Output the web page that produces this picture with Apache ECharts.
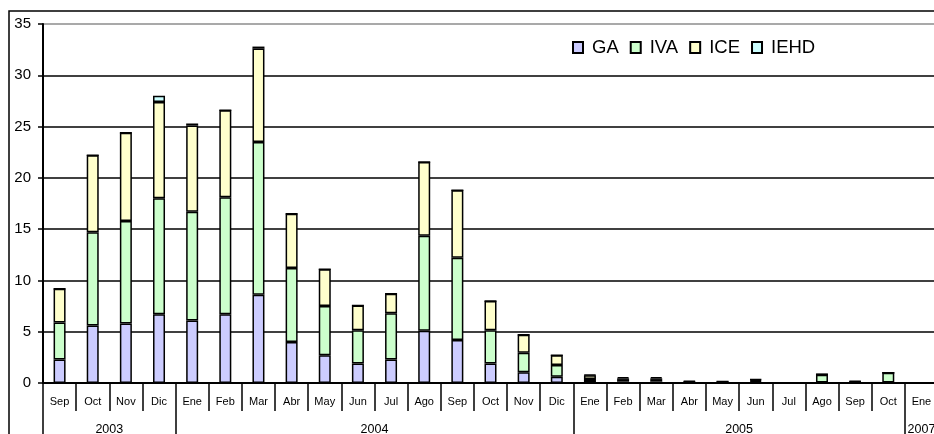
<!DOCTYPE html>
<html>
<head>
<meta charset="utf-8">
<script src="https://cdn.jsdelivr.net/npm/echarts@6/dist/echarts.min.js"></script>
<style>
    html, body { margin: 0; padding: 0; background: #fff; }
    #chart { width: 934px; height: 434px; }
</style>
</head>
<body>
<div id="chart"></div>
<script>
    // categorias (meses) y agrupacion por año
    var months = ['Sep', 'Oct', 'Nov', 'Dic',
        'Ene', 'Feb', 'Mar', 'Abr', 'May', 'Jun', 'Jul', 'Ago', 'Sep', 'Oct', 'Nov', 'Dic',
        'Ene', 'Feb', 'Mar', 'Abr', 'May', 'Jun', 'Jul', 'Ago', 'Sep', 'Oct',
        'Ene'];
    var years = ['2003', '2004', '2005', '2007'];
    var monthsPerYear = [4, 12, 10, 1];

    var yMin = 0, yMax = 35, yStep = 5;

    var GA = [2.3, 5.6, 5.8, 6.7,
        6.1, 6.7, 8.6, 4.0, 2.7, 1.9, 2.3, 5.1, 4.2, 1.9, 1.05, 0.6,
        0.1, 0.15, 0.15, 0.05, 0.05, 0.1, 0, 0.05, 0.05, 0.05,
        0];
    var IVA = [3.6, 9.1, 10.0, 11.3,
        10.6, 11.4, 14.9, 7.2, 4.8, 3.25, 4.5, 9.25, 8.0, 3.25, 1.9, 1.15,
        0.3, 0.15, 0.15, 0.05, 0.05, 0.1, 0, 0.75, 0.05, 0.95,
        0];
    var ICE = [3.3, 7.5, 8.6, 9.4,
        8.4, 8.5, 9.1, 5.3, 3.6, 2.4, 1.9, 7.2, 6.6, 2.85, 1.75, 0.95,
        0.35, 0.15, 0.15, 0.05, 0.05, 0.1, 0, 0.05, 0.05, 0,
        0];
    var IEHD = [0, 0, 0, 0.6,
        0.2, 0, 0.2, 0, 0, 0, 0, 0, 0, 0, 0, 0,
        0.05, 0.1, 0.1, 0.05, 0, 0.06, 0, 0, 0.05, 0,
        0];

    var seriesNames = ['GA', 'IVA', 'ICE', 'IEHD'];
    var seriesData = [GA, IVA, ICE, IEHD];
    var seriesColors = ['#ccccff', '#ccffcc', '#ffffcc', '#ccffff'];

    var font = '"Liberation Sans", Arial, sans-serif';

    // eje de años: medias posiciones, etiqueta en el centro de cada grupo
    var yearSlots = [];
    var yearBounds = [];
    for (var i = 0; i <= months.length * 2; i++) yearSlots.push('');
    var start = 0;
    for (var g = 0; g < years.length; g++) {
        yearBounds.push(start * 2);
        yearSlots[start * 2 + monthsPerYear[g]] = years[g];
        start += monthsPerYear[g];
    }
    yearBounds.push(start * 2);

    // lineas de division: la ultima (borde superior) en gris
    var splitColors = [];
    for (var v = yMin; v <= yMax; v += yStep) splitColors.push('#000');
    splitColors[splitColors.length - 1] = '#8c8c8c';

    var chart = echarts.init(document.getElementById('chart'));

    chart.setOption({
        animation: false,
        textStyle: { fontFamily: font, color: '#000' },
        grid: { left: 43, top: 24, right: -4, bottom: 51, outerBoundsMode: 'none', containLabel: false },
        legend: {
            data: seriesNames,
            left: 567,
            top: 33,
            icon: 'rect',
            itemWidth: 10,
            itemHeight: 11,
            itemGap: 11,
            textStyle: { fontFamily: font, fontSize: 18.5, color: '#000', padding: [0, 0, 0, 4] }
        },
        graphic: [{
            type: 'rect',
            silent: true,
            shape: { x: 9, y: 11, width: 1000, height: 1000 },
            style: { fill: 'none', stroke: '#000', lineWidth: 1.5 }
        }],
        xAxis: [{
            type: 'category',
            data: months,
            boundaryGap: true,
            axisLine: { show: true, lineStyle: { color: '#000', width: 2 } },
            axisTick: { show: true, length: 28, interval: 0, lineStyle: { color: '#000', width: 1.5 } },
            axisLabel: { interval: 0, fontSize: 11, margin: 13, color: '#000', fontFamily: font },
            splitLine: { show: false }
        }, {
            type: 'category',
            data: yearSlots,
            position: 'bottom',
            boundaryGap: false,
            axisLine: { show: false },
            axisTick: {
                show: true, length: 51,
                interval: function (idx) { return yearBounds.indexOf(idx) >= 0; },
                lineStyle: { color: '#000', width: 1.5 }
            },
            axisLabel: {
                interval: function (idx, val) { return val !== ''; },
                fontSize: 12.5, margin: 40, color: '#000', fontFamily: font
            },
            splitLine: { show: false }
        }],
        yAxis: {
            type: 'value',
            min: yMin,
            max: yMax,
            interval: yStep,
            axisLine: { show: true, lineStyle: { color: '#000', width: 2 } },
            axisTick: { show: true, length: 5, lineStyle: { color: '#000', width: 1.5 } },
            axisLabel: { fontSize: 15, margin: 12, color: '#000', fontFamily: font },
            splitLine: { show: true, lineStyle: { color: splitColors, width: 1.5 } }
        },
        series: seriesNames.map(function (name, k) {
            return {
                name: name,
                type: 'bar',
                stack: 'total',
                xAxisIndex: 0,
                barWidth: 12,
                data: seriesData[k],
                itemStyle: { color: seriesColors[k], borderColor: '#000', borderWidth: 1.5 }
            };
        })
    });
</script>
</body>
</html>
